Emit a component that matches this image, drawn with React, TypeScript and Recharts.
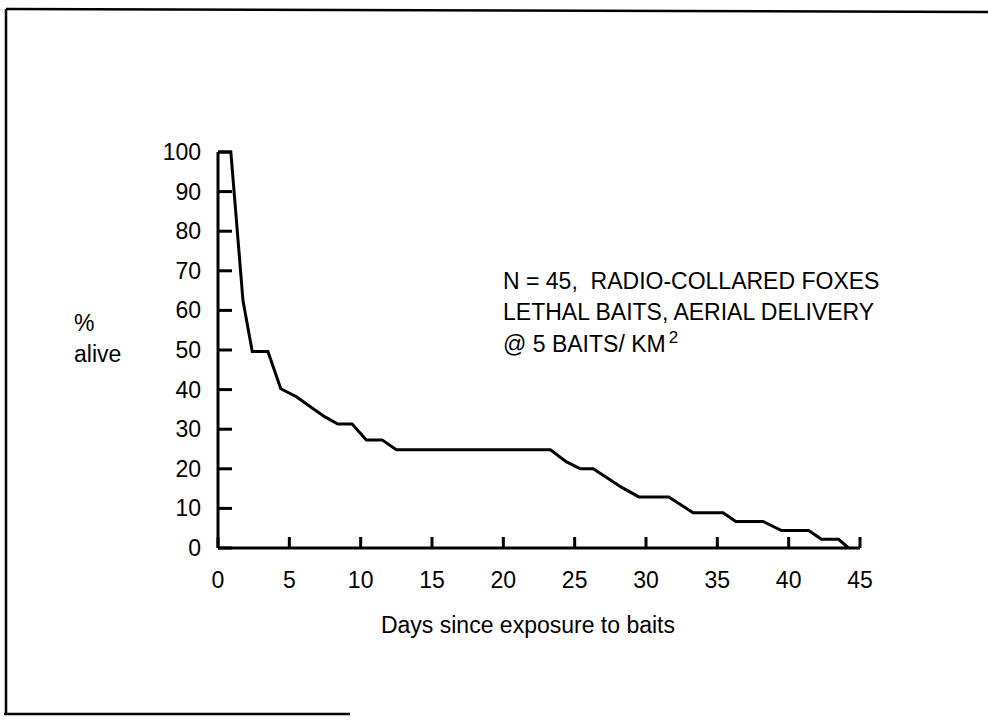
import { Line, LineChart, XAxis, YAxis } from 'recharts'

// days since exposure and % of collared foxes still alive
const days = [
  0, 0.9, 1.75, 2.4, 3.5, 4.4, 5.5, 6.5, 7.5, 8.4, 9.4, 10.4, 11.5, 12.5, 23.3,
  24.4, 25.4, 26.3, 28.3, 29.5, 31.6, 33.3, 35.4, 36.3, 38.2, 39.5, 41.4, 42.3,
  43.5, 44.2,
]
const alive = [
  100, 100, 62.5, 49.6, 49.6, 40.2, 38.2, 35.6, 33.1, 31.3, 31.3, 27.3, 27.3,
  24.8, 24.8, 21.8, 20, 20, 15.3, 12.9, 12.9, 8.9, 8.9, 6.7, 6.7, 4.4, 4.4, 2.2,
  2.2, 0,
]
const xTicks = [0, 5, 10, 15, 20, 25, 30, 35, 40, 45]
const yTicks = [0, 10, 20, 30, 40, 50, 60, 70, 80, 90, 100]
const note = [
  'N = 45,\u00a0 RADIO-COLLARED FOXES',
  'LETHAL BAITS, AERIAL DELIVERY',
  '@ 5 BAITS/ KM',
]

const data = days.map((d, i) => ({ day: d, alive: alive[i] }))

const FONT = '"Liberation Sans", Arial, Helvetica, sans-serif'
const FS = 23

function XTick(props: any) {
  const { x, y, payload } = props
  return (
    <g>
      <line x1={x} y1={y} x2={x} y2={y - 11} stroke='#000' strokeWidth={3} />
      <text
        x={x}
        y={y + 32}
        textAnchor='middle'
        dominantBaseline='central'
        fontSize={FS}
        fontFamily={FONT}
        fill='#000'
      >
        {payload.value}
      </text>
    </g>
  )
}

function YTick(props: any) {
  const { x, y, payload } = props
  return (
    <g>
      <line x1={x} y1={y} x2={x + 14} y2={y} stroke='#000' strokeWidth={3} />
      <text
        x={x - 17}
        y={y}
        textAnchor='end'
        dominantBaseline='central'
        fontSize={FS}
        fontFamily={FONT}
        fill='#000'
      >
        {payload.value}
      </text>
    </g>
  )
}

export default function App() {
  return (
    <div
      style={{
        position: 'absolute',
        left: 0,
        top: 0,
        width: 988,
        height: 722,
        background: '#fff',
      }}
    >
      <LineChart
        width={988}
        height={722}
        data={data}
        margin={{ top: 152, right: 128, bottom: 0, left: 0 }}
      >
        <XAxis
          dataKey='day'
          type='number'
          domain={[0, 45]}
          ticks={xTicks}
          interval={0}
          height={174}
          tickSize={0}
          tickMargin={0}
          tickLine={false}
          axisLine={{ stroke: '#000', strokeWidth: 3 }}
          tick={<XTick />}
        />
        <YAxis
          type='number'
          domain={[0, 100]}
          ticks={yTicks}
          interval={0}
          width={218}
          tickSize={0}
          tickMargin={0}
          tickLine={false}
          axisLine={{ stroke: '#000', strokeWidth: 3 }}
          tick={<YTick />}
        />
        <Line
          type='linear'
          dataKey='alive'
          stroke='#000'
          strokeWidth={3}
          dot={false}
          isAnimationActive={false}
        />
      </LineChart>

      <svg
        width={988}
        height={722}
        style={{ position: 'absolute', left: 0, top: 0, pointerEvents: 'none' }}
      >
        {/* scanned page frame */}
        <line x1={6} y1={9} x2={988} y2={12} stroke='#000' strokeWidth={2.5} />
        <line x1={6} y1={9} x2={6} y2={714} stroke='#000' strokeWidth={2.5} />
        <line x1={4} y1={714} x2={350} y2={714} stroke='#000' strokeWidth={2.5} />

        <g fontFamily={FONT} fontSize={FS} fill='#000'>
          <text x={74} y={323} dominantBaseline='central'>%</text>
          <text x={74} y={354} dominantBaseline='central'>alive</text>

          <text x={503} y={281} dominantBaseline='central'>{note[0]}</text>
          <text x={503} y={312} dominantBaseline='central'>{note[1]}</text>
          <text x={503} y={344} dominantBaseline='central'>
            {note[2]}
            <tspan fontSize={17} dx={3} dy={-7}>2</tspan>
          </text>

          <text x={528} y={625} textAnchor='middle' dominantBaseline='central'>
            Days since exposure to baits
          </text>
        </g>
      </svg>
    </div>
  )
}
